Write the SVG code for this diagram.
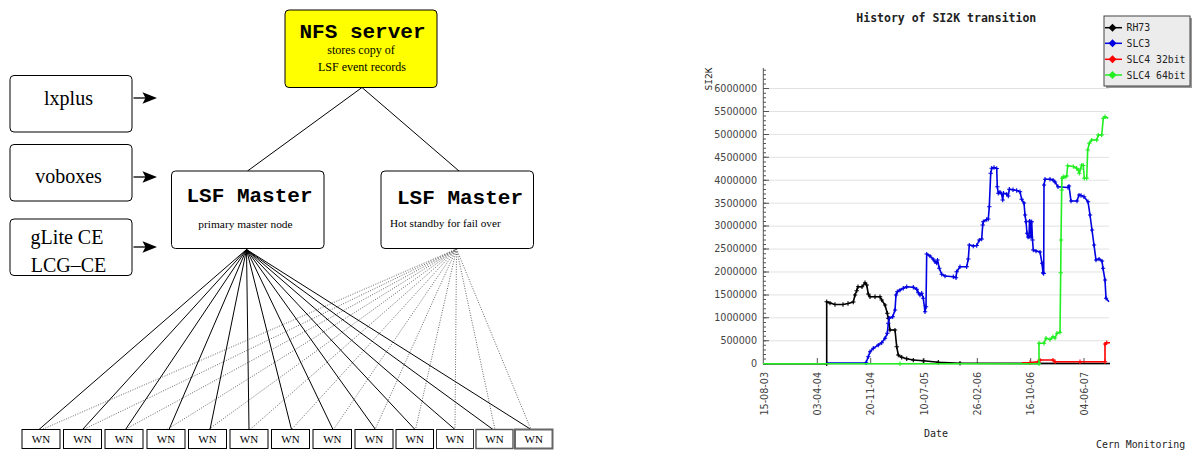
<svg xmlns="http://www.w3.org/2000/svg" width="1194" height="452" viewBox="0 0 1194 452">
<style>
.box{fill:#fff;stroke:#000;stroke-width:1}
.t20{font-family:"Liberation Serif",serif;font-size:20px;text-anchor:middle;fill:#000}
.cb{font-family:"Liberation Mono",monospace;font-weight:bold;font-size:21px;text-anchor:middle;fill:#000}
.sm{font-family:"Liberation Serif",serif;font-size:12px;fill:#000}
.wn{font-family:"Liberation Serif",serif;font-size:11px;text-anchor:middle;fill:#000}
.sol{stroke:#000;stroke-width:1;fill:none}
.dot{stroke:#666;stroke-width:1;stroke-dasharray:1 1.5;fill:none}
.grid{stroke:#e2e2e2;stroke-width:1;fill:none}
.ax{stroke:#555;fill:none}
.yl{font-family:"DejaVu Sans",sans-serif;font-size:9.6px;fill:#444;text-anchor:end}
.xl{font-family:"DejaVu Sans",sans-serif;font-size:9.6px;fill:#444;text-anchor:end}
.mono{font-family:"DejaVu Sans Mono",monospace;fill:#222}
.ser{fill:none;stroke-width:1.6;stroke-linejoin:round}
</style>
<defs>
<marker id="pk" markerWidth="5" markerHeight="5" refX="2.5" refY="2.5" markerUnits="userSpaceOnUse" viewBox="0 0 5 5"><path d="M0.3,2.5H4.7M2.5,0.3V4.7" stroke="#000" stroke-width="1.1"/></marker>
<marker id="pb" markerWidth="5" markerHeight="5" refX="2.5" refY="2.5" markerUnits="userSpaceOnUse" viewBox="0 0 5 5"><path d="M0.3,2.5H4.7M2.5,0.3V4.7" stroke="#0000e0" stroke-width="1.1"/></marker>
<marker id="pr" markerWidth="5" markerHeight="5" refX="2.5" refY="2.5" markerUnits="userSpaceOnUse" viewBox="0 0 5 5"><path d="M0.3,2.5H4.7M2.5,0.3V4.7" stroke="#f00" stroke-width="1.1"/></marker>
<marker id="pg" markerWidth="5" markerHeight="5" refX="2.5" refY="2.5" markerUnits="userSpaceOnUse" viewBox="0 0 5 5"><path d="M0.3,2.5H4.7M2.5,0.3V4.7" stroke="#22ee22" stroke-width="1.1"/></marker>
</defs>
<rect width="1194" height="452" fill="#fff"/>

<g id="connectors">
<path class="sol" d="M362,87.5L247.5,171M362,87.5L459,171"/>
<g id="arrows" stroke="#000" fill="#000">
<path d="M133.5,98H147" stroke-width="1.3"/><path d="M157,98L142.5,92.2L145.5,98L142.5,103.8Z" stroke="none"/>
<path d="M133.5,177H147" stroke-width="1.3"/><path d="M157,177L142.5,171.2L145.5,177L142.5,182.8Z" stroke="none"/>
<path d="M133.5,247H147" stroke-width="1.3"/><path d="M157,247L142.5,241.2L145.5,247L142.5,252.8Z" stroke="none"/>
</g>
<path class="dot" d="M456.5,249L42,429.5M456.5,249L83.5,429.5M456.5,249L125,429.5M456.5,249L167,429.5M456.5,249L208.5,429.5M456.5,249L250,429.5M456.5,249L291.5,429.5M456.5,249L333.5,429.5M456.5,249L375,429.5M456.5,249L415.5,429.5M456.5,249L455,429.5M456.5,249L495,429.5M456.5,249L531,429.5"/>
<path class="sol" d="M246.5,249.5L39,429.5M246.5,249.5L82.5,429.5M246.5,249.5L125.5,429.5M246.5,249.5L169,429.5M246.5,249.5L210,429.5M246.5,249.5L249,429.5M246.5,249.5L291.5,429.5M246.5,249.5L333,429.5M246.5,249.5L375.5,429.5M246.5,249.5L415,429.5M246.5,249.5L455,429.5M246.5,249.5L493,429.5M246.5,249.5L531,429.5"/>
</g>

<g id="lxplus"><rect class="box" x="10" y="75.5" width="122" height="56.5" rx="4"/><text class="t20" x="68.5" y="104.5">lxplus</text></g>
<g id="voboxes"><rect class="box" x="10" y="144.5" width="122" height="56.5" rx="4"/><text class="t20" x="68.5" y="182.5">voboxes</text></g>
<g id="glite"><rect class="box" x="10" y="219" width="122" height="56.5" rx="4"/><text class="t20" x="67" y="243.5">gLite CE</text><text class="t20" x="68.5" y="271.5">LCG–CE</text></g>

<g id="nfs"><rect x="285" y="10" width="152" height="77.5" rx="4" fill="#ffff00" stroke="#000"/>
<text class="cb" x="362.5" y="37.5">NFS server</text>
<text class="sm" x="361" y="53.5" text-anchor="middle">stores copy of</text>
<text class="sm" x="362" y="70.5" text-anchor="middle">LSF event records</text></g>

<g id="lsf1"><rect class="box" x="171.5" y="171" width="152.5" height="77.5" rx="4"/>
<text class="cb" x="249.5" y="201.5">LSF Master</text>
<text class="sm" x="245.5" y="227.5" text-anchor="middle" style="font-size:11.4px">primary master node</text></g>

<g id="lsf2"><rect class="box" x="381" y="171" width="152.5" height="77.5" rx="4"/>
<text class="cb" x="460" y="203.5">LSF Master</text>
<text class="sm" x="390" y="226.5" style="font-size:11.2px">Hot standby for fail over</text></g>

<g id="wn1"><rect class="box" x="22" y="429.5" width="38" height="19"/><text class="wn" x="41" y="443.3">WN</text></g>
<g id="wn2"><rect class="box" x="63.5" y="429.5" width="38" height="19"/><text class="wn" x="82.5" y="443.3">WN</text></g>
<g id="wn3"><rect class="box" x="105" y="429.5" width="38" height="19"/><text class="wn" x="124" y="443.3">WN</text></g>
<g id="wn4"><rect class="box" x="147" y="429.5" width="38" height="19"/><text class="wn" x="166" y="443.3">WN</text></g>
<g id="wn5"><rect class="box" x="188.5" y="429.5" width="38" height="19"/><text class="wn" x="207.5" y="443.3">WN</text></g>
<g id="wn6"><rect class="box" x="230" y="429.5" width="38" height="19"/><text class="wn" x="249" y="443.3">WN</text></g>
<g id="wn7"><rect class="box" x="271.5" y="429.5" width="38" height="19"/><text class="wn" x="290.5" y="443.3">WN</text></g>
<g id="wn8"><rect class="box" x="313" y="429.5" width="38.5" height="19"/><text class="wn" x="332.3" y="443.3">WN</text></g>
<g id="wn9"><rect class="box" x="355" y="429.5" width="38" height="19"/><text class="wn" x="374" y="443.3">WN</text></g>
<g id="wn10"><rect class="box" x="396" y="429.5" width="37.5" height="19"/><text class="wn" x="414.7" y="443.3">WN</text></g>
<g id="wn11"><rect class="box" x="436.5" y="429.5" width="37" height="19" style="stroke:#333"/><text class="wn" x="455" y="443.3">WN</text></g>
<g id="wn12"><rect x="476" y="429.5" width="37" height="19" fill="#fff" stroke="#555" stroke-width="1.4"/><text class="wn" x="494.5" y="443.3">WN</text></g>
<g id="wn13"><rect x="515" y="429.5" width="37.5" height="19" fill="#fff" stroke="#666" stroke-width="2"/><text class="wn" x="533.7" y="443.3">WN</text></g>

<g id="chart">
<text class="mono" x="946.3" y="21.5" text-anchor="middle" style="font-size:11.5px;font-weight:bold">History of SI2K transition</text>
<path class="grid" d="M763,340.77H1109M763,317.84H1109M763,294.91H1109M763,271.98H1109M763,249.05H1109M763,226.12H1109M763,203.19H1109M763,180.26H1109M763,157.33H1109M763,134.4H1109M763,111.47H1109M763,88.54H1109"/>
<path d="M764.5,364.2V68" stroke="#555" stroke-width="3" stroke-dasharray="1 3.586" fill="none"/>
<path d="M766,364.2V68" stroke="#555" stroke-width="6" stroke-dasharray="1 21.93" fill="none"/>
<path class="ax" d="M763.3,68V364"/>
<path class="ax" d="M763,363.7H1110M817.3,363.7V358M870.7,363.7V358M924,363.7V358M977.3,363.7V358M1030.7,363.7V358M1084,363.7V358"/>
<g class="yl">
<text x="757" y="367">0</text>
<text x="757" y="344.1">500000</text>
<text x="757" y="321.2">1000000</text>
<text x="757" y="298.2">1500000</text>
<text x="757" y="275.3">2000000</text>
<text x="757" y="252.4">2500000</text>
<text x="757" y="229.4">3000000</text>
<text x="757" y="206.5">3500000</text>
<text x="757" y="183.6">4000000</text>
<text x="757" y="160.6">4500000</text>
<text x="757" y="137.7">5000000</text>
<text x="757" y="114.8">5500000</text>
<text x="757" y="91.8">6000000</text>
</g>
<g class="xl">
<text transform="translate(767.5,372) rotate(-90)">15-08-03</text>
<text transform="translate(820.8,372) rotate(-90)">03-04-04</text>
<text transform="translate(874.2,372) rotate(-90)">20-11-04</text>
<text transform="translate(927.5,372) rotate(-90)">10-07-05</text>
<text transform="translate(980.8,372) rotate(-90)">26-02-06</text>
<text transform="translate(1034.2,372) rotate(-90)">16-10-06</text>
<text transform="translate(1087.5,372) rotate(-90)">04-06-07</text>
</g>
<text class="mono" transform="translate(711.5,79) rotate(-90)" text-anchor="middle" style="font-size:9.5px">SI2K</text>
<text class="mono" x="936" y="437" text-anchor="middle" style="font-size:10px">Date</text>
<text class="mono" x="1096" y="448" style="font-size:9.9px">Cern Monitoring</text>

<polyline class="ser" stroke="#000" marker-mid="url(#pk)" points="763,363.7 826.7,363.7 826.7,301.8 830,303 835,304.5 843,304.5 848,303.5 853.3,302 855,295 856.7,290.7 858,286.7 862,286.7 865,282.7 866.7,285 868.3,294 870,296.7 875,296.7 880,296.7 881.7,300 885,305 887.3,313.3 888.3,318.3 890,330 895,330 896.7,346.7 898.3,355 901.7,357.3 906.7,358.7 913.3,360 923.3,360.7 938.3,362.3 960,363.3 1110,363.5"/>
<polyline class="ser" stroke="#0000e0" marker-mid="url(#pb)" points="826.7,363 866,362.7 868.3,356.7 870,351.7 873.3,348.3 878.3,345 881.7,342.7 885,338.3 887.3,333.3 888.3,323.3 889.3,318.3 892.7,316.7 895,310 896,295 897.3,291.7 900,290 903.3,288.3 906.7,286.7 913.3,287.3 916.7,289.3 918.3,292.7 920,295 921.7,293.3 923.3,298.3 925,311.7 926,306.7 926.7,254 930,256 933,259 935,261.7 936.7,263 937.5,260 939.3,268.3 941.7,274.3 945,276 953.3,276.7 956,277.7 956.7,271.7 960,266.7 966.7,266.7 968.3,259 969.3,245 973.3,246 976.7,245.5 979.3,240 981.7,239 982.7,225 983.3,221.7 986.7,219.5 988.3,219 989.3,206.7 990.7,173.3 991.7,168.3 994,167.5 996.7,168.5 997.3,186.7 998.3,193.3 1000,192 1001.7,194 1002.7,200 1003.5,193.3 1006.7,194 1008.3,196 1009.3,189.3 1013,189.8 1016.7,190.5 1020,191.7 1021.7,199.3 1024,203 1025,215 1026,221.7 1027,233.3 1028,237 1029,236.7 1029.5,221 1030,221.7 1031,237 1031.7,221.7 1032.5,240 1033.3,250 1036,251 1040,252 1042,263.3 1043,272.7 1043.7,273.5 1044,185 1045,179.3 1050,179.3 1053,180 1055,182 1058,186.7 1068,187.5 1069,186 1071,201 1077,201 1079,195 1081,195.5 1084,196.7 1088,201.7 1090,215 1092,230 1094,245 1096,260 1099,259 1102,261 1103,268.3 1105,280 1106,298.3 1109,301.7"/>
<polyline class="ser" stroke="#f00" marker-mid="url(#pr)" points="1022,362.8 1030,362.5 1038,361.7 1040,360 1053,360 1055,361.7 1080,361.7 1105,361.7 1105,344 1106.7,342.7 1110,342.7"/>
<polyline class="ser" stroke="#22ee22" stroke-width="1.8" marker-mid="url(#pg)" points="763,363.7 900,363.7 1039,363.7 1039,343.3 1044,343.3 1046,338.3 1050,339.5 1053,336.7 1055,338 1057,333.3 1060,332.3 1060.7,272.7 1061,240 1061.7,190 1062,178.3 1063.3,176.7 1065,177 1066.7,176 1067.7,165.7 1073.3,166.5 1076.7,168.3 1078.3,170 1079.3,173.3 1080.5,169 1081.7,165 1083.3,165.5 1084.3,178.3 1086.7,178.3 1087.7,150 1089.3,143.3 1091.7,140 1096.7,140 1098.3,135 1101.7,135 1103.3,118.3 1105,116.7 1108.3,118.3"/>

<g id="legend">
<rect x="1106" y="18" width="86" height="70" fill="#999"/>
<rect x="1104" y="16" width="86" height="70" fill="#ececec" stroke="#444"/>
<path d="M1105,27.7H1122" stroke="#000" stroke-width="1.5"/><path d="M1112.5,23.7L1116.5,27.7L1112.5,31.7L1108.5,27.7Z" fill="#000"/>
<path d="M1105,43.3H1122" stroke="#0000e0" stroke-width="1.5"/><path d="M1112.5,39.3L1116.5,43.3L1112.5,47.3L1108.5,43.3Z" fill="#0000e0"/>
<path d="M1105,59.3H1122" stroke="#f00" stroke-width="1.5"/><path d="M1112.5,55.3L1116.5,59.3L1112.5,63.3L1108.5,59.3Z" fill="#f00"/>
<path d="M1105,75H1122" stroke="#22ee22" stroke-width="1.5"/><path d="M1112.5,71L1116.5,75L1112.5,79L1108.5,75Z" fill="#22ee22"/>
<g class="mono" style="font-size:9.8px">
<text x="1126.5" y="31.2">RH73</text>
<text x="1126.5" y="46.8">SLC3</text>
<text x="1126.5" y="62.8">SLC4 32bit</text>
<text x="1126.5" y="78.5">SLC4 64bit</text>
</g>
</g>
</g>
</svg>
